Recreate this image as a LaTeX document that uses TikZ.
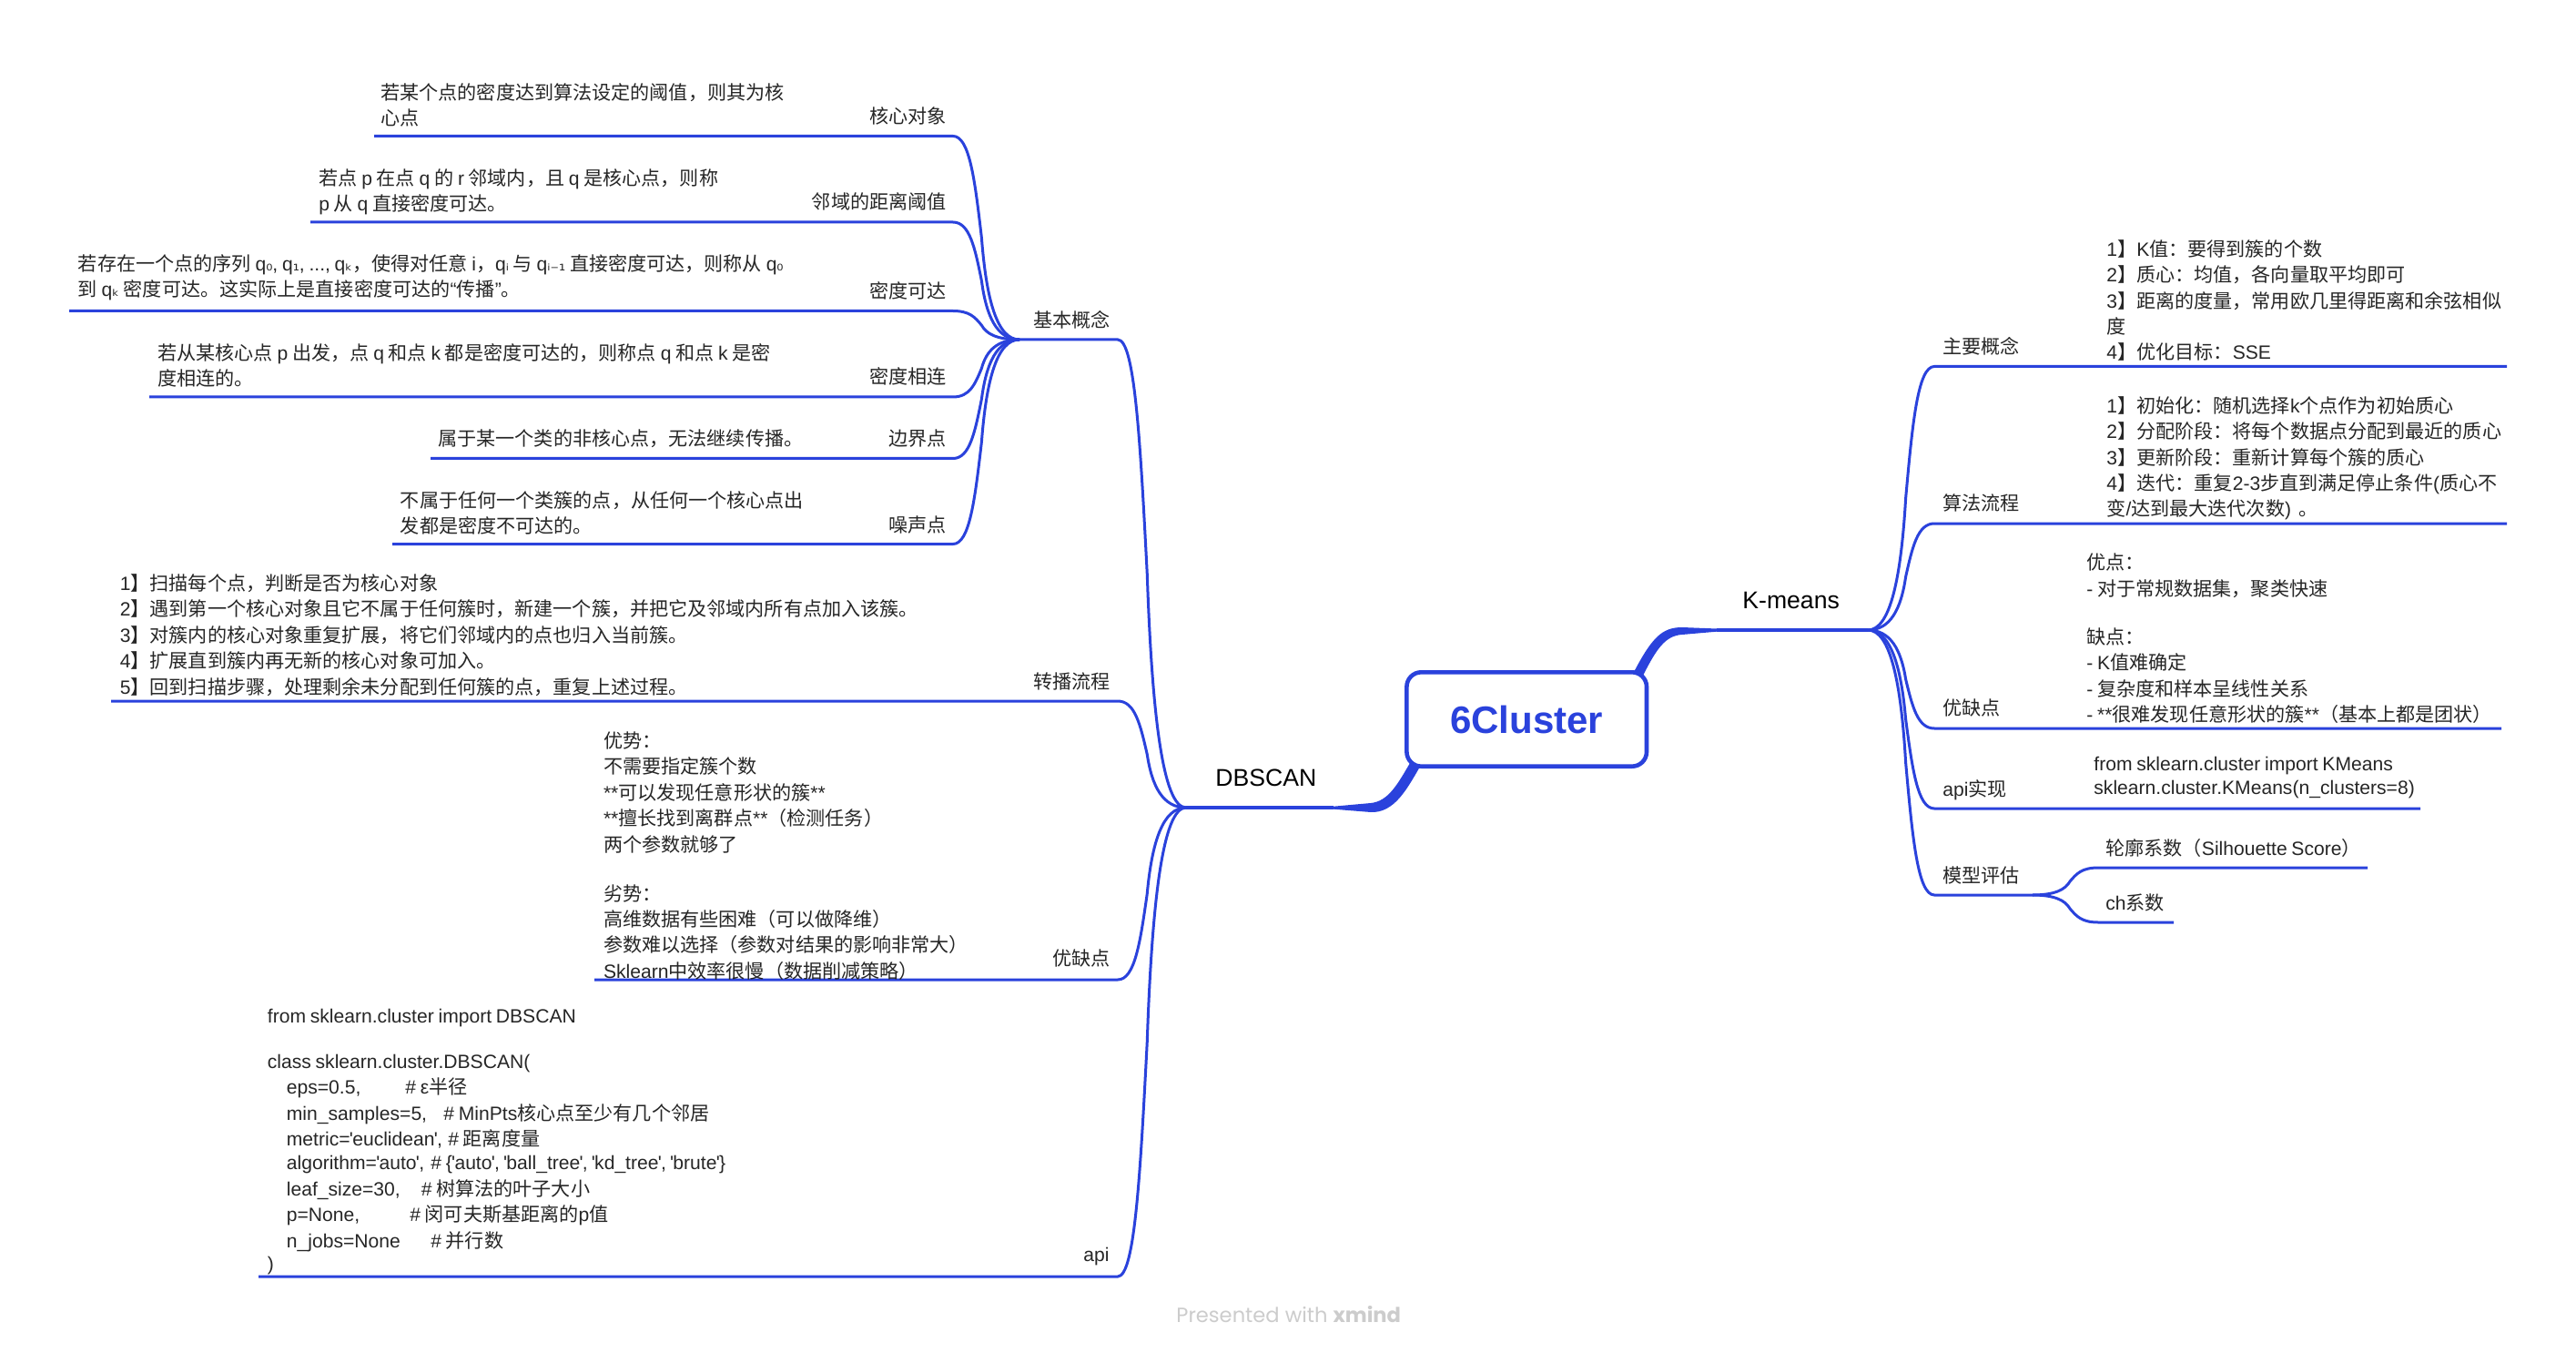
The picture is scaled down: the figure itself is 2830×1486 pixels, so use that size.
\documentclass[tikz,border=0pt]{standalone}
\usepackage{fontspec}
\usetikzlibrary{calc}
\setmainfont{Noto Sans CJK SC}
\newfontfamily\cjkf{Noto Sans CJK SC}
\newfontfamily\latf{Liberation Sans}
\newfontfamily\subf{DejaVu Sans}[Scale=0.85]
\newfontfamily\wmf{Poppins}
\newcount\cc
\cc="21
\loop\XeTeXcharclass\cc=7 \advance\cc 1 \ifnum\cc<"7F \repeat
\XeTeXcharclass"03B5=7
\XeTeXcharclass"201C=7
\XeTeXcharclass"201D=7
\XeTeXinterchartoks 0 7={\latf}
\XeTeXinterchartoks 4095 7={\latf}
\XeTeXinterchartoks 7 0={\cjkf}
\XeTeXinterchartoks 7 4095={\cjkf}
\XeTeXinterchartoks 4095 0={\cjkf}
\XeTeXinterchartokenstate=1
\definecolor{bl}{HTML}{2A42DC}
\definecolor{tx}{HTML}{262626}
\newcommand\body{\fontsize{10.55}{14.2}\selectfont}
\newcommand\fl{\rule{0pt}{10pt}}
\newcommand\sbs[1]{{\XeTeXinterchartokenstate=0 \subf #1}}
\newcommand\cl[3]{\hspace*{10.5pt}\makebox[#1pt][l]{#2}#3}
\newcommand\ap{\kern-.35pt'\kern-.35pt}
\tikzset{
  txt/.style={anchor=north west,inner sep=0pt,align=left,font=\body,text=tx},
  labl/.style={anchor=base east,inner sep=0pt,font=\body,text=tx},
  labr/.style={anchor=base west,inner sep=0pt,font=\body,text=tx},
  mainlab/.style={anchor=base west,inner sep=0pt,text=black,font={\XeTeXinterchartokenstate=0 \latf\fontsize{13.3}{16}\selectfont}},
  thin/.style={draw=bl,line width=1.5pt},
  thick/.style={draw=bl,line width=2pt},
  scurve/.style={to path={let \p1=(\tikztostart),\p2=(\tikztotarget),\n1={\x2-\x1},\n2={\y2-\y1} in
    .. controls ({\x1+.25*\n1},\y1) and ({\x1+.33*\n1},{\y1+.22*\n2}) .. ({\x1+.43*\n1},{\y1+.5*\n2})
    .. controls ({\x1+.5*\n1},{\y1+.8*\n2}) and ({\x1+.66*\n1},\y2) .. (\tikztotarget)}}
}
\begin{document}
\begin{tikzpicture}[x=0.5pt,y=-0.5pt]
\path[use as bounding box,fill=white] (0,0) rectangle (2830,1486);

% tapered main branches
\coordinate (lA) at (1465,885.7); \coordinate (lB) at (1465,888.7);
\coordinate (rA) at (1886,690.5); \coordinate (rB) at (1886,693.7);
\fill[bl] (lA) -- (1506,882) .. controls (1525,880) and (1535,862) .. (1549,838)
  -- (1560,842) .. controls (1546,866) and (1532,893) .. (1506,892) -- (lB) -- cycle;
\fill[bl] (rA) -- (1848,689) .. controls (1826,689) and (1815,700) .. (1795,738)
  -- (1805,742) .. controls (1820,712) and (1830,698) .. (1848,697) -- (rB) -- cycle;

% central topic
\node[draw=bl,line width=2.3pt,rounded corners=8pt,fill=white,minimum width=131.8pt,minimum height=51.7pt,inner sep=0pt,text=bl,
  font={\XeTeXinterchartokenstate=0 \latf\bfseries\fontsize{21}{24}\selectfont}] (root) at (1677.2,790) {\raisebox{-1pt}{6Cluster}};

% joints and line ends
\coordinate (jd) at (1303,887);
\coordinate (jk) at (2052,692);
\coordinate (jb) at (1120,373);
\coordinate (b0) at (1228,373);
\coordinate (bS) at (1127,373);
\foreach \nm/\yy/\xe in {a1/149.5/411,a2/244/341,a3/341.5/76,a4/436/164,a5/503.5/473,a6/597.5/431}{
  \coordinate (\nm) at (1047,\yy);
  \coordinate (\nm e) at (\xe,\yy);
  \draw[thin] (\nm e) -- (\nm) to[scurve] (jb);
}
\draw[thin] (jb) -- (b0) to[scurve] (jd);
\foreach \nm/\yy/\xe in {d2/770/122,d3/1076/653,d4/1402/284}{
  \coordinate (\nm) at (1228,\yy);
  \coordinate (\nm e) at (\xe,\yy);
  \draw[thin] (\nm e) -- (\nm) to[scurve] (jd);
}
\coordinate (lM) at (1465,887);
\draw[thick] (lM) -- (jd);
\coordinate (rM) at (1886,692);
\draw[thick] (rM) -- (jk);
\foreach \nm/\yy/\xe in {k1/402.5/2754,k2/575/2754,k3/800/2748,k4/888/2659,k5/983/2233}{
  \coordinate (\nm) at (2125,\yy);
  \coordinate (\nm e) at (\xe,\yy);
  \draw[thin] (\nm e) -- (\nm) to[scurve] (jk);
}
\coordinate (e1s) at (2305,953); \coordinate (e1e) at (2601,953);
\coordinate (e2s) at (2305,1013); \coordinate (e2e) at (2388,1013);
\draw[thin] (e1e) -- (e1s) to[scurve] (k5e);
\draw[thin] (e2e) -- (e2s) to[scurve] (k5e);

% first-level labels
\node[mainlab] (dbscan) at (1335,863) {DBSCAN};
\node[mainlab] (kmeans) at (1914,668) {K-means};

% left side labels
\node[labl] (l1) at (1040,136) {核心对象};
\node[labl] (l2) at (1040,230) {邻域的距离阈值};
\node[labl] (l3) at (1040,328) {密度可达};
\node[labl] (l4) at (1040,421.5) {密度相连};
\node[labl] (l5) at (1040,489) {边界点};
\node[labl] (l6) at (1040,584) {噪声点};
\node[labl] (l7) at (1220,360) {基本概念};
\node[labl] (l8) at (1220,756) {转播流程};
\node[labl] (l9) at (1220,1060) {优缺点};
\node[labl] (l10) at (1219,1385) {api};

% left side texts
\node[txt] (t1) at (418,89) {\fl 若某个点的密度达到算法设定的阈值，则其为核\\心点};
\node[txt] (t2) at (350,183) {\fl 若点 p 在点 q 的 r 邻域内，且 q 是核心点，则称\\p 从 q 直接密度可达。};
\node[txt] (t3) at (85.5,277) {\fl 若存在一个点的序列 q\sbs{₀}, q\sbs{₁}, ..., q\sbs{ₖ}，使得对任意 i，q\sbs{ᵢ} 与 q\sbs{ᵢ₋₁} 直接密度可达，则称从 q\sbs{₀}\\到 q\sbs{ₖ} 密度可达。这实际上是直接密度可达的“传播”。};
\node[txt] (t4) at (173,375) {\fl 若从某核心点 p 出发，点 q 和点 k 都是密度可达的，则称点 q 和点 k 是密\\度相连的。};
\node[txt] (t5) at (481,469) {\fl 属于某一个类的非核心点，无法继续传播。};
\node[txt] (t6) at (439.5,536.6) {\fl 不属于任何一个类簇的点，从任何一个核心点出\\发都是密度不可达的。};
\node[txt] (t7) at (131.5,628) {\fl 1】扫描每个点，判断是否为核心对象\\
2】遇到第一个核心对象且它不属于任何簇时，新建一个簇，并把它及邻域内所有点加入该簇。\\
3】对簇内的核心对象重复扩展，将它们邻域内的点也归入当前簇。\\
4】扩展直到簇内再无新的核心对象可加入。\\
5】回到扫描步骤，处理剩余未分配到任何簇的点，重复上述过程。};
\node[txt] (t8) at (662.6,801) {\fl 优势：\\不需要指定簇个数\\**可以发现任意形状的簇**\\**擅长找到离群点**（检测任务）\\两个参数就够了\\\mbox{}\\[-1.4pt]
劣势：\\高维数据有些困难（可以做降维）\\参数难以选择（参数对结果的影响非常大）\\Sklearn中效率很慢（数据削减策略）};
\node[txt] (t9) at (293.5,1102.7) {\fl from sklearn.cluster import DBSCAN\\\mbox{}\\[-3.25pt]
class sklearn.cluster.DBSCAN(\\
\cl{65.25}{eps=0.5,}{\# ε半径}\\
\cl{86.25}{min\_samples=5,}{\# MinPts核心点至少有几个邻居}\\
\cl{88.75}{metric=\ap euclidean\ap,}{\# 距离度量}\\[-1.1pt]
\cl{79.25}{algorithm=\ap auto\ap,}{\# \{\ap auto\ap, \ap ball\_tree\ap, \ap kd\_tree\ap, \ap brute\ap\}}\\
\cl{74}{leaf\_size=30,}{\# 树算法的叶子大小}\\
\cl{67.75}{p=None,}{\# 闵可夫斯基距离的p值}\\[.3pt]
\cl{79.25}{n\_jobs=None}{\# 并行数}\\[-1.6pt]
)};

% right side labels
\node[labr] (r1) at (2134,389) {主要概念};
\node[labr] (r2) at (2134,560.5) {算法流程};
\node[labr] (r3) at (2134,785) {优缺点};
\node[labr] (r4) at (2134,874) {api实现};
\node[labr] (r5) at (2134,969) {模型评估};
\node[labr] (r6) at (2313,939) {轮廓系数（Silhouette Score）};
\node[labr] (r7) at (2313,999) {ch系数};

% right side texts
\node[txt] (u1) at (2314,261) {\fl 1】K值：要得到簇的个数\\2】质心：均值，各向量取平均即可\\3】距离的度量，常用欧几里得距离和余弦相似\\度\\4】优化目标：SSE};
\node[txt] (u2) at (2314,433) {\fl 1】初始化：随机选择k个点作为初始质心\\2】分配阶段：将每个数据点分配到最近的质心\\3】更新阶段：重新计算每个簇的质心\\4】迭代：重复2-3步直到满足停止条件(质心不\\变/达到最大迭代次数)\hspace{2pt} 。};
\node[txt] (u3) at (2292,605.5) {\fl 优点：\\- 对于常规数据集，聚类快速\\\mbox{}\\[-1.9pt]
缺点：\\- K值难确定\\- 复杂度和样本呈线性关系\\- **很难发现任意形状的簇**（基本上都是团状）};
\node[txt] (u4) at (2300,826) {\fl from sklearn.cluster import KMeans\\[-1.35pt]sklearn.cluster.KMeans(n\_clusters=8)};

% watermark
\node[anchor=base west,inner sep=0pt,text=black!20,font={\XeTeXinterchartokenstate=0 \wmf\fontsize{11.3}{14}\selectfont}] (wm) at (1292,1452) {Presented with \textbf{xmind}};
\end{tikzpicture}
\end{document}
